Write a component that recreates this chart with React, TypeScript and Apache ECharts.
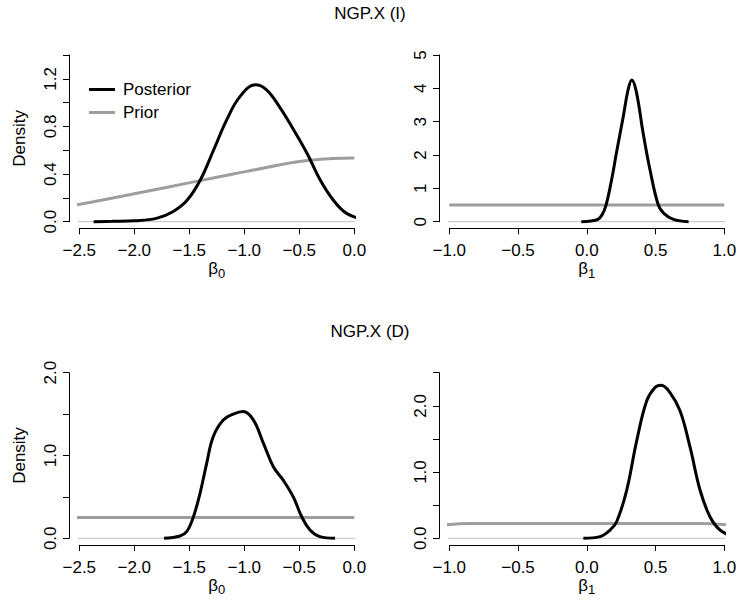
import React, { useEffect, useRef } from "react";
import * as echarts from "echarts";

// ---- Data ----
// Panel 1: NGP.X (I), beta0
const post1X = [-2.37, -2.2, -2.0, -1.8, -1.65, -1.52, -1.4, -1.28, -1.16, -1.04, -0.9, -0.8, -0.68, -0.56, -0.43, -0.31, -0.19, -0.07, 0.1];
const post1Y = [0, 0.003, 0.008, 0.028, 0.084, 0.18, 0.35, 0.6, 0.855, 1.05, 1.15, 1.11, 0.965, 0.785, 0.575, 0.35, 0.18, 0.07, 0.015];
const prior1X = [-2.594, -2.3, -2.0, -1.7, -1.4, -1.1, -0.8, -0.5, -0.2, 0.0];
const prior1Y = [0.13, 0.18, 0.235, 0.29, 0.345, 0.4, 0.455, 0.505, 0.53, 0.535];

// Panel 2: NGP.X (I), beta1
const post2X = [-0.04, 0.03, 0.08, 0.11, 0.14, 0.18, 0.217, 0.265, 0.3, 0.327, 0.36, 0.41, 0.46, 0.52, 0.56, 0.63, 0.74];
const post2Y = [0, 0.02, 0.07, 0.2, 0.5, 1.25, 2.1, 3.15, 3.95, 4.25, 3.9, 2.65, 1.55, 0.5, 0.25, 0.07, 0];
const prior2X = [-1.0, 1.0];
const prior2Y = [0.5, 0.5];

// Panel 3: NGP.X (D), beta0
const post3X = [-1.73, -1.585, -1.524, -1.464, -1.403, -1.342, -1.282, -1.191, -1.1, -1.01, -0.918, -0.827, -0.736, -0.645, -0.555, -0.478, -0.403, -0.312, -0.175];
const post3Y = [0, 0.028, 0.08, 0.254, 0.54, 0.905, 1.23, 1.43, 1.5, 1.53, 1.43, 1.15, 0.865, 0.7, 0.5, 0.26, 0.1, 0.02, 0];
const prior3X = [-2.594, 0.0];
const prior3Y = [0.25, 0.25];

// Panel 4: NGP.X (D), beta1
const post4X = [-0.025, 0.096, 0.169, 0.217, 0.29, 0.363, 0.436, 0.496, 0.54, 0.605, 0.678, 0.751, 0.824, 0.896, 0.969, 1.083];
const post4Y = [0, 0.025, 0.125, 0.25, 0.725, 1.475, 2.075, 2.275, 2.31, 2.2, 1.925, 1.375, 0.725, 0.325, 0.125, 0.01];
const prior4X = [-1.075, -0.85, 0.823, 1.083];
const prior4Y = [0.19, 0.225, 0.225, 0.19];

// Plot-region x extents (for the y = 0 reference line)
const beta0Range = [-2.594, 0.104];
const beta1Range = [-1.075, 1.083];

const titles = ["NGP.X (I)", "NGP.X (D)"];
const legendNames = ["Posterior", "Prior"];

const FONT = "Liberation Sans, Arial, Helvetica, sans-serif";
const FS = 17;

const zip = (xs: number[], ys: number[]) => xs.map((x, i) => [x, ys[i]]);
const fmt1 = (v: number) => {
  const r = Math.round(v * 10) / 10;
  return r < 0 ? "\u2212" + Math.abs(r).toFixed(1) : r.toFixed(1);
};

export default function App() {
  const ref = useRef<HTMLDivElement>(null);
  useEffect(() => {
    if (!ref.current) return;
    const chart = echarts.init(ref.current, undefined, { renderer: "svg" });

    const grids = [
      { left: 79.3, right: 740 - 354.3, top: 55, bottom: 602 - 221.7 },
      { left: 449.3, right: 740 - 724.3, top: 55, bottom: 602 - 221.7 },
      { left: 79.3, right: 740 - 354.3, top: 372.7, bottom: 602 - 538.3 },
      { left: 449.3, right: 740 - 724.3, top: 372.7, bottom: 602 - 538.3 },
    ];

    const axisCommon = {
      axisLine: { show: true, onZero: false, lineStyle: { color: "#000", width: 1 } },
      axisTick: { show: true, length: 6, lineStyle: { color: "#000", width: 1 } },
      splitLine: { show: false },
    };

    const betaName = (sub: string) => "{b|\u03b2}{s|" + sub + "}";
    const nameRich = {
      b: { fontSize: FS, fontFamily: FONT, color: "#000" },
      s: { fontSize: 13, fontFamily: FONT, color: "#000", verticalAlign: "bottom", padding: [9, 0, 0, 0] },
    };

    const xAxes = [0, 1, 2, 3].map((i) => {
      const isB0 = i % 2 === 0;
      return {
        type: "value",
        gridIndex: i,
        min: isB0 ? -2.5 : -1.0,
        max: isB0 ? 0 : 1.0,
        interval: 0.5,
        offset: 6.6,
        ...axisCommon,
        axisLabel: {
          show: true,
          margin: 14,
          fontSize: FS,
          fontFamily: FONT,
          color: "#000",
          formatter: (v: number) => fmt1(v),
        },
        name: betaName(isB0 ? "0" : "1"),
        nameLocation: "middle",
        nameGap: 27,
        nameTextStyle: { rich: nameRich },
      };
    });

    const yAxes = [0, 1, 2, 3].map((i) => {
      let min = 0, max = 1.4, interval = 0.2;
      let formatter = (v: number) => (Math.round(v * 10) % 4 === 0 ? fmt1(v) : "");
      if (i === 1) {
        max = 5; interval = 1;
        formatter = (v: number) => String(Math.round(v));
      } else if (i === 2) {
        max = 2; interval = 0.5;
        formatter = (v: number) => (Math.round(v * 10) % 10 === 0 ? fmt1(v) : "");
      } else if (i === 3) {
        max = 2.5; interval = 0.5;
        formatter = (v: number) => (Math.round(v * 10) % 10 === 0 ? fmt1(v) : "");
      }
      const hasName = i % 2 === 0;
      return {
        type: "value",
        gridIndex: i,
        min, max, interval,
        offset: 10.3,
        ...axisCommon,
        axisLabel: {
          show: true,
          rotate: 90,
          margin: 10,
          fontSize: FS,
          fontFamily: FONT,
          color: "#000",
          formatter,
        },
        name: hasName ? "Density" : "",
        nameLocation: "middle",
        nameRotate: 90,
        nameGap: 41,
        nameTextStyle: { fontSize: FS, fontFamily: FONT, color: "#000" },
      };
    });

    const panels = [
      { post: zip(post1X, post1Y), prior: zip(prior1X, prior1Y), range: beta0Range },
      { post: zip(post2X, post2Y), prior: zip(prior2X, prior2Y), range: beta1Range },
      { post: zip(post3X, post3Y), prior: zip(prior3X, prior3Y), range: beta0Range },
      { post: zip(post4X, post4Y), prior: zip(prior4X, prior4Y), range: beta1Range },
    ];

    const series: any[] = [];
    panels.forEach((p, i) => {
      series.push({
        type: "line",
        name: "zero" + i,
        xAxisIndex: i,
        yAxisIndex: i,
        data: [[p.range[0], 0], [p.range[1], 0]],
        symbol: "none",
        clip: false,
        silent: true,
        lineStyle: { color: "#bebebe", width: 1 },
        z: 1,
      });
      series.push({
        type: "line",
        name: legendNames[1],
        xAxisIndex: i,
        yAxisIndex: i,
        data: p.prior,
        smooth: 0.4,
        symbol: "none",
        clip: false,
        lineStyle: { color: "#9e9e9e", width: 3 },
        itemStyle: { color: "#9e9e9e" },
        z: 2,
      });
      series.push({
        type: "line",
        name: legendNames[0],
        xAxisIndex: i,
        yAxisIndex: i,
        data: p.post,
        smooth: 0.4,
        symbol: "none",
        clip: false,
        lineStyle: { color: "#000", width: 3 },
        itemStyle: { color: "#000" },
        z: 3,
      });
    });

    const titleStyle = { fontSize: FS, fontWeight: "normal", fontFamily: FONT, color: "#000" };

    chart.setOption({
      animation: false,
      backgroundColor: "#fff",
      title: [
        { text: titles[0], left: "center", top: 5, padding: 0, textStyle: titleStyle },
        { text: titles[1], left: "center", top: 322.7, padding: 0, textStyle: titleStyle },
      ],
      legend: {
        data: legendNames,
        orient: "vertical",
        left: 89,
        top: 81,
        padding: 0,
        icon: "rect",
        itemWidth: 26,
        itemHeight: 3,
        itemGap: 6,
        selectedMode: false,
        textStyle: { fontSize: FS, fontFamily: FONT, color: "#000", padding: [0, 0, 0, 3] },
      },
      grid: grids,
      xAxis: xAxes,
      yAxis: yAxes,
      series,
    });
    return () => chart.dispose();
  }, []);
  return <div ref={ref} style={{ width: 740, height: 602, position: "absolute", left: 0, top: 0 }} />;
}
